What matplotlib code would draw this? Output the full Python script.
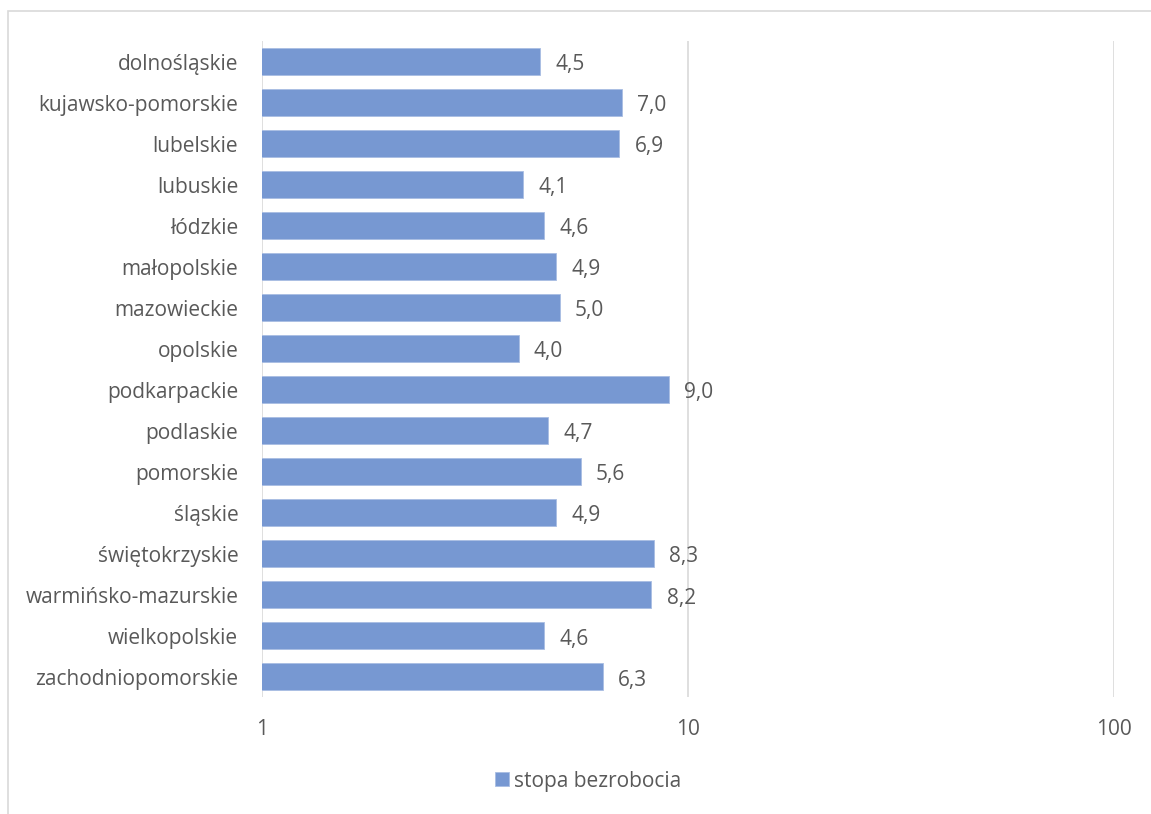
import numpy as np
import matplotlib.pyplot as plt

# dane: stopa bezrobocia wg województw
wojewodztwa = ['dolnośląskie', 'kujawsko-pomorskie', 'lubelskie', 'lubuskie', 'łódzkie',
               'małopolskie', 'mazowieckie', 'opolskie', 'podkarpackie', 'podlaskie',
               'pomorskie', 'śląskie', 'świętokrzyskie', 'warmińsko-mazurskie',
               'wielkopolskie', 'zachodniopomorskie']
stopa = [4.5, 7.0, 6.9, 4.1, 4.6, 4.9, 5.0, 4.0, 9.0, 4.7, 5.6, 4.9, 8.3, 8.2, 4.6, 6.3]
ticks = [1, 10, 100]

plt.rcParams['font.family'] = ['Open Sans', 'DejaVu Sans']
txt = '#595959'
kolor = '#7798D2'
fs = 15

fig = plt.figure(figsize=(11.51, 8.14), dpi=100)
ax = fig.add_axes([0.2276, 0.1437, 0.7404, 0.8059])

# ramka wykresu
fig.patches.append(plt.Rectangle((8 / 1151, -0.01), 1.1, 1 - 11 / 814 + 0.01,
                                 transform=fig.transFigure, fill=False,
                                 edgecolor='#D9D9D9', linewidth=1.2))

y = np.arange(len(wojewodztwa))
ax.barh(y, stopa, height=0.66, color=kolor, edgecolor='#A9BDE3', linewidth=0.6,
        label='stopa bezrobocia', zorder=3)
for yi, v in zip(y, stopa):
    ax.annotate(f'{v:.1f}'.replace('.', ','), (v, yi), xytext=(11, -2.5),
                textcoords='offset points', va='center', ha='left',
                fontsize=fs, color=txt)

ax.set_xscale('log')
ax.set_xlim(1, 100)
ax.set_ylim(len(wojewodztwa) - 0.5, -0.5)
ax.set_xticks(ticks)
ax.set_xticklabels([str(t) for t in ticks])
ax.minorticks_off()
ax.set_yticks(y)
ax.set_yticklabels(wojewodztwa)
ax.tick_params(axis='both', length=0, labelsize=fs, labelcolor=txt)
ax.tick_params(axis='x', pad=16)
ax.tick_params(axis='y', pad=17)
ax.grid(axis='x', color='#D9D9D9', linewidth=1.2, zorder=0)
for s in ax.spines.values():
    s.set_visible(False)

fig.legend(loc='center', bbox_to_anchor=(588 / 1151, 1 - 781 / 814), frameon=False,
           fontsize=fs, labelcolor=txt, handlelength=0.65, handleheight=0.65,
           handletextpad=0.25)

plt.savefig('out.png', dpi=100)
